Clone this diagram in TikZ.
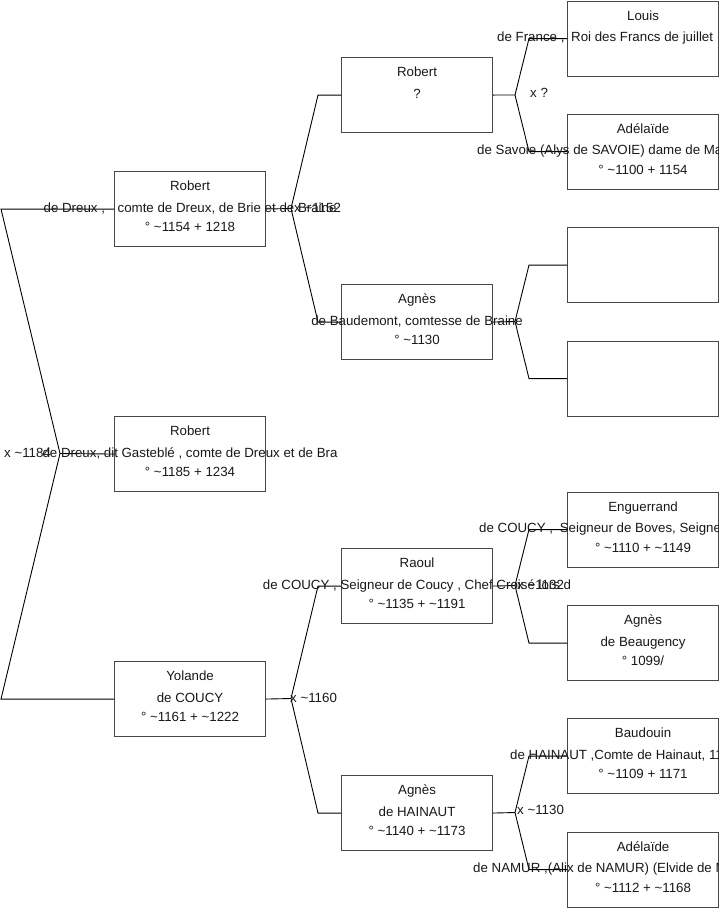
\documentclass[tikz,border=0pt]{standalone}
\usepackage{fontspec}
\setmainfont{Liberation Sans}
\newcommand{\tildech}{\textasciitilde}
\begin{document}
\begin{tikzpicture}[x=1pt,y=-1pt,
  pbox/.style={draw=black!72, line width=1.1pt, minimum width=151pt, minimum height=75pt, inner sep=0pt, anchor=north west},
  txt/.style={font=\fontsize{13.3}{15}\selectfont, inner sep=0pt, text=black!90, anchor=base},
  wtxt/.style={txt, anchor=base west},
  lnk/.style={draw=black, line width=0.9pt},
  lbl/.style={txt, anchor=base west}]
\useasboundingbox (0,0) rectangle (719,908);
\fill[white] (0,0) rectangle (719,908);

% boxes
\node[pbox] (b1) at (114,171) {};
\node[pbox] (b2) at (114,416) {};
\node[pbox] (b3) at (114,661) {};
\node[pbox] (c1) at (341,57) {};
\node[pbox] (c2) at (341,284) {};
\node[pbox] (c3) at (341,548) {};
\node[pbox] (c4) at (341,775) {};
\node[pbox] (d1) at (567,0.5) {};
\node[pbox] (d2) at (567,113.5) {};
\node[pbox] (d3) at (567,227) {};
\node[pbox] (d4) at (567,340.5) {};
\node[pbox] (d5) at (567,491.5) {};
\node[pbox] (d6) at (567,605) {};
\node[pbox] (d7) at (567,718) {};
\node[pbox] (d8) at (567,831.5) {};

% vertices
\coordinate (v0) at (60,453.5);
\coordinate (v1) at (291,208.5);
\coordinate (v2) at (291,698.5);
\coordinate (w1) at (515,95);
\coordinate (w2) at (515,321.5);
\coordinate (w3) at (515,585.5);
\coordinate (w4) at (515,812.5);

% connectors
\draw[lnk] (b1.west) -- ++(-113,0) -- (v0);
\draw[lnk] (b3.west) -- ++(-113,0) -- (v0);
\draw[lnk] (v0) -- (b2.west);

\draw[lnk] (b1.east) -- (v1);
\draw[lnk] (c1.west) -- ++(-23,0) -- (v1);
\draw[lnk] (c2.west) -- ++(-23,0) -- (v1);
\draw[lnk] (b3.east) -- (v2);
\draw[lnk] (c3.west) -- ++(-23,0) -- (v2);
\draw[lnk] (c4.west) -- ++(-23,0) -- (v2);

\draw[lnk] (c1.east) -- (w1);
\draw[lnk] (d1.west) -- ++(-38,0) -- (w1);
\draw[lnk] (d2.west) -- ++(-38,0) -- (w1);
\draw[lnk] (c2.east) -- (w2);
\draw[lnk] (d3.west) -- ++(-38,0) -- (w2);
\draw[lnk] (d4.west) -- ++(-38,0) -- (w2);
\draw[lnk] (c3.east) -- (w3);
\draw[lnk] (d5.west) -- ++(-38,0) -- (w3);
\draw[lnk] (d6.west) -- ++(-38,0) -- (w3);
\draw[lnk] (c4.east) -- (w4);
\draw[lnk] (d7.west) -- ++(-38,0) -- (w4);
\draw[lnk] (d8.west) -- ++(-38,0) -- (w4);

% texts generation 1
\node[txt] (b1a) at ([yshift=-19.5pt]b1.north) {Robert};
\node[txt] (b1b) at ([yshift=-41pt]b1.north) {de Dreux ,\hspace{9pt} comte de Dreux, de Brie et de Braine};
\node[txt] (b1c) at ([yshift=-60.5pt]b1.north) {° \tildech1154 + 1218};

\node[txt] (b2a) at ([yshift=-19.5pt]b2.north) {Robert};
\node[txt] (b2b) at ([yshift=-41pt]b2.north) {de Dreux, dit Gasteblé , comte de Dreux et de Bra};
\node[txt] (b2c) at ([yshift=-60.5pt]b2.north) {° \tildech1185 + 1234};

\node[txt] (b3a) at ([yshift=-19.5pt]b3.north) {Yolande};
\node[txt] (b3b) at ([yshift=-41pt]b3.north) {de COUCY};
\node[txt] (b3c) at ([yshift=-60.5pt]b3.north) {° \tildech1161 + \tildech1222};

% generation 2
\node[txt] (c1a) at ([yshift=-19.5pt]c1.north) {Robert};
\node[txt] (c1b) at ([yshift=-41pt]c1.north) {?};

\node[txt] (c2a) at ([yshift=-19.5pt]c2.north) {Agnès};
\node[txt] (c2b) at ([yshift=-41pt]c2.north) {de Baudemont, comtesse de Braine};
\node[txt] (c2c) at ([yshift=-60.5pt]c2.north) {° \tildech1130};

\node[txt] (c3a) at ([yshift=-19.5pt]c3.north) {Raoul};
\node[txt] (c3b) at ([yshift=-41pt]c3.north) {de COUCY , Seigneur de Coucy , Chef Croisé lors d};
\node[txt] (c3c) at ([yshift=-60.5pt]c3.north) {° \tildech1135 + \tildech1191};

\node[txt] (c4a) at ([yshift=-19.5pt]c4.north) {Agnès};
\node[txt] (c4b) at ([yshift=-41pt]c4.north) {de HAINAUT};
\node[txt] (c4c) at ([yshift=-60.5pt]c4.north) {° \tildech1140 + \tildech1173};

% generation 3
\node[txt] (d1a) at ([yshift=-19.5pt]d1.north) {Louis};
\node[wtxt] (d1b) at (497,41.5) {de France ,\hspace{3pt} Roi des Francs de juillet};

\node[txt] (d2a) at ([yshift=-19.5pt]d2.north) {Adélaïde};
\node[wtxt] (d2b) at (477,154.5) {de Savoie (Alys de SAVOIE) dame de Ma};
\node[txt] (d2c) at ([yshift=-60.5pt]d2.north) {° \tildech1100 + 1154};

\node[txt] (d5a) at ([yshift=-19.5pt]d5.north) {Enguerrand};
\node[wtxt] (d5b) at (479,532.5) {de COUCY ,\hspace{3pt} Seigneur de Boves, Seigne};
\node[txt] (d5c) at ([yshift=-60.5pt]d5.north) {° \tildech1110 + \tildech1149};

\node[txt] (d6a) at ([yshift=-19.5pt]d6.north) {Agnès};
\node[txt] (d6b) at ([yshift=-41pt]d6.north) {de Beaugency};
\node[txt] (d6c) at ([yshift=-60.5pt]d6.north) {° 1099/};

\node[txt] (d7a) at ([yshift=-19.5pt]d7.north) {Baudouin};
\node[wtxt] (d7b) at (510,759) {de HAINAUT ,Comte de Hainaut, 11};
\node[txt] (d7c) at ([yshift=-60.5pt]d7.north) {° \tildech1109 + 1171};

\node[txt] (d8a) at ([yshift=-19.5pt]d8.north) {Adélaïde};
\node[wtxt] (d8b) at (473,872.5) {de NAMUR ,(Alix de NAMUR) (Elvide de N};
\node[txt] (d8c) at ([yshift=-60.5pt]d8.north) {° \tildech1112 + \tildech1168};

% marriage labels
\node[lbl] (m0) at (4,457) {x \tildech1184};
\node[lbl] (m1) at (294,212.5) {x \tildech1152};
\node[lbl] (m2) at (290,702.5) {x \tildech1160};
\node[lbl] (m3) at (530,97) {x ?};
\node[lbl] (m4) at (517,589.5) {x \tildech1132};
\node[lbl] (m5) at (517,814.5) {x \tildech1130};
\end{tikzpicture}
\end{document}
